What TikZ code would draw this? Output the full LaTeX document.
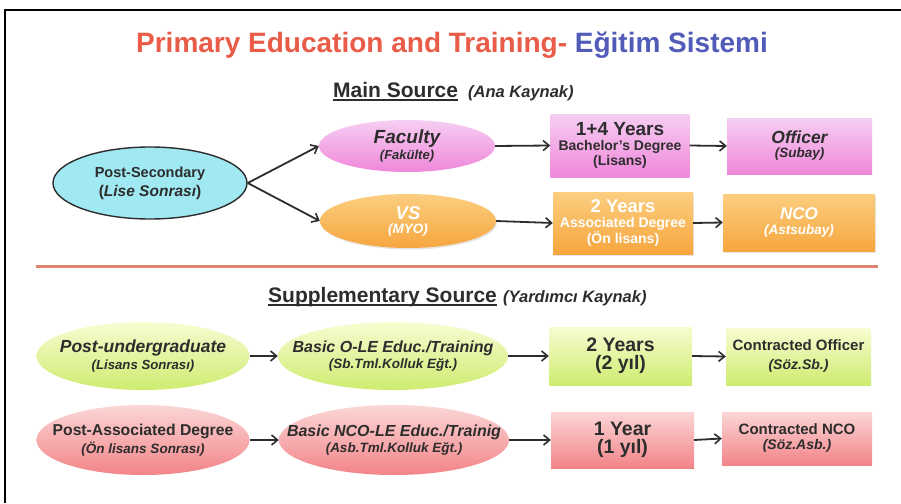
\documentclass[tikz,border=0pt]{standalone}
\usepackage{fontspec}
\setmainfont{Liberation Sans}
\usetikzlibrary{shapes.geometric,arrows.meta,shadows}
\definecolor{titlered}{RGB}{232,92,72}
\definecolor{titleblue}{RGB}{82,92,184}
\definecolor{txt}{RGB}{45,45,45}
\definecolor{cyanfill}{RGB}{160,232,242}
\definecolor{pinktop}{RGB}{246,206,242}
\definecolor{pinkbot}{RGB}{240,135,218}
\definecolor{orgtop}{RGB}{252,206,128}
\definecolor{orgbot}{RGB}{246,166,62}
\definecolor{grntop}{RGB}{248,252,210}
\definecolor{grnbot}{RGB}{206,236,112}
\definecolor{redtop}{RGB}{252,214,214}
\definecolor{redbot}{RGB}{242,132,136}
\definecolor{sepline}{RGB}{222,132,110}
\newcommand{\fs}[1]{\fontsize{#1}{#1}\selectfont}
\tikzset{
  ell/.style={ellipse, inner sep=0pt},
  lbl/.style={inner sep=0pt, align=center, text=txt, font=\bfseries},
  bx/.style={rectangle, inner sep=0pt, align=center, text=txt, font=\bfseries},
  shad/.style={drop shadow={opacity=0.2, shadow xshift=1pt, shadow yshift=-1.5pt}},
  pinkc/.style={top color=pinktop, bottom color=pinkbot},
  orgc/.style={top color=orgtop, bottom color=orgbot, text=white},
  grnc/.style={top color=grntop, bottom color=grnbot},
  redc/.style={top color=redtop, bottom color=redbot},
  arr/.style={draw=txt, line width=1.8pt, -{Straight Barb[length=6pt,width=10pt,line width=1.6pt]}},
}
\begin{document}
\begin{tikzpicture}[x=1pt,y=-1pt]
\useasboundingbox (0,0) rectangle (901,503);
\fill[white] (0,0) rectangle (901,503);
% frame
\draw[line width=2pt] (5,503) -- (5,10) -- (901,10);
% title
\node[font=\bfseries\fs{28}, inner sep=0pt] (title) at (452,45) {{\color{titlered}Primary Education and Training-} {\color{titleblue}Eğitim Sistemi}};
% main source header
\node[font=\bfseries\fs{21}, text=txt, anchor=base west, inner sep=0pt] (ms) at (333,97) {Main Source};
\draw[txt, line width=1.8pt] ([yshift=-3pt]ms.base west) -- ([yshift=-3pt]ms.base east);
\node[font=\bfseries\itshape\fs{16.5}, text=txt, anchor=base west, inner sep=0pt] (ak) at (468,97) {(Ana Kaynak)};

% main source row
\node[ell, draw=txt, line width=1.4pt, fill=cyanfill, minimum width=194pt, minimum height=72pt] (ps) at (150,183) {};
\node[lbl] (pst) at (ps) {{\fs{14.5}Post-Secondary}\\[4pt]{\fs{15.5}(\textit{Lise Sonrası})}};
\node[ell, pinkc, minimum width=176pt, minimum height=52pt] (fac) at (407,146) {};
\node[lbl] (fact) at (fac) {{\fs{19}\itshape Faculty}\\[1pt]{\fs{13}\itshape (Fakülte)}};
\node[ell, orgc, shad, minimum width=176pt, minimum height=54pt] (vs) at (408,221) {};
\node[lbl, text=white] (vst) at (vs) {{\fs{18.5}\itshape VS}\\[2pt]{\fs{13.5}\itshape (MYO)}};
\node[bx, pinkc, minimum width=139pt, minimum height=63pt] (lis) at (620,145.5) {{\fs{19}1+4 Years}\\[3pt]{\fs{14}Bachelor's Degree}\\[1pt]{\fs{14}(Lisans)}};
\node[bx, pinkc, minimum width=145pt, minimum height=56pt] (off) at (799.5,146) {{\fs{17.5}\itshape Officer}\\[2pt]{\fs{13.5}\itshape (Subay)}};
\node[bx, orgc, shad, minimum width=140pt, minimum height=62pt] (onl) at (623,223) {{\fs{18.5}2 Years}\\[3pt]{\fs{14}Associated Degree}\\[1pt]{\fs{14}(Ön lisans)}};
\node[bx, orgc, shad, minimum width=152pt, minimum height=57pt] (nco) at (799,222.5) {{\fs{17}\itshape NCO}\\[3pt]{\fs{13.5}\itshape (Astsubay)}};

\draw[arr] (ps.east) -- (fac.west);
\draw[arr] (ps.east) -- (vs.west);
\draw[arr] (fac.east) -- (lis.west);
\draw[arr] (vs.east) -- (onl.west);
\draw[arr] (lis.east) -- (off.west);
\draw[arr] (onl.east) -- (nco.west);

% separator
\coordinate (sepL) at (36,266);
\coordinate (sepR) at (878,266);
\draw[sepline, line width=3pt] (sepL) -- (sepR);

% supplementary header
\node[font=\bfseries\fs{21}, text=txt, anchor=base west, inner sep=0pt] (ss) at (268,302) {Supplementary Source};
\draw[txt, line width=1.8pt] ([yshift=-3pt]ss.base west) -- ([yshift=-3pt]ss.base east);
\node[font=\bfseries\itshape\fs{16.5}, text=txt, anchor=base west, inner sep=0pt] (yk) at (503,302) {(Yardımcı Kaynak)};

% row 3
\node[ell, grnc, minimum width=213pt, minimum height=68pt] (pu) at (143,356) {};
\node[lbl] (put) at (pu) {{\fs{17.5}\itshape Post-undergraduate}\\[2pt]{\fs{13.2}\itshape (Lisans Sonrası)}};
\node[ell, grnc, minimum width=230pt, minimum height=68pt] (ole) at (393,356) {};
\node[lbl] (olet) at (ole) {{\fs{16}\itshape Basic O-LE Educ./Training}\\[1pt]{\fs{13.5}\itshape (Sb.Tml.Kolluk Eğt.)}};
\node[bx, grnc, minimum width=143pt, minimum height=58pt] (y2) at (620.5,356) {{\fs{19.5}2 Years}\\[3pt]{\fs{19.5}(2 yıl)}};
\node[bx, grnc, minimum width=145pt, minimum height=57pt] (co) at (798.5,356.5) {{\fs{15}Contracted Officer}\\[7pt]{\fs{14}\itshape (Söz.Sb.)}};
\draw[arr] (pu.east) -- (ole.west);
\draw[arr] (ole.east) -- (y2.west);
\draw[arr] (y2.east) -- (co.west);

% row 4
\node[ell, redc, minimum width=213pt, minimum height=70pt] (pa) at (143,440) {};
\node[lbl] (pat) at (pa) {{\fs{15.7}Post-Associated Degree}\\[2pt]{\fs{13.5}\itshape (Ön lisans Sonrası)}};
\node[ell, redc, minimum width=230pt, minimum height=70pt] (nle) at (394,440) {};
\node[lbl] (nlet) at (nle) {{\fs{16}\itshape Basic NCO-LE Educ./Trainig}\\[1pt]{\fs{13.5}\itshape (Asb.Tml.Kolluk Eğt.)}};
\node[bx, redc, minimum width=143pt, minimum height=56pt] (y1) at (622.5,440) {{\fs{19.5}1 Year}\\[3pt]{\fs{19.5}(1 yıl)}};
\node[bx, redc, minimum width=150pt, minimum height=53pt] (cn) at (797,438.5) {{\fs{15}Contracted NCO}\\[3pt]{\fs{14}\itshape (Söz.Asb.)}};
\draw[arr] (pa.east) -- (nle.west);
\draw[arr] (nle.east) -- (y1.west);
\draw[arr] (y1.east) -- (cn.west);
\end{tikzpicture}
\end{document}
